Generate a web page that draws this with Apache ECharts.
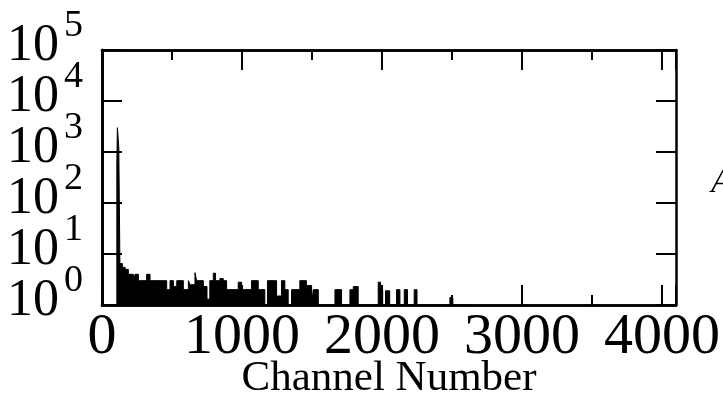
<!DOCTYPE html>
<html>
<head>
<meta charset="utf-8">
<script src="https://cdn.jsdelivr.net/npm/echarts@6/dist/echarts.min.js"></script>
<style>html,body{margin:0;padding:0;background:#fff}#c{width:723px;height:407px}</style>
</head>
<body>
<div id="c"></div>
<script>
// Histogram: each value holds from its channel until the next channel entry
const channels = [0, 106, 110, 120, 128, 145, 165, 188, 224, 236, 260, 319, 343, 462, 486, 510, 534, 581, 617, 629, 664, 676, 724, 750, 770, 795, 811, 842, 866, 890, 973, 997, 1068, 1116, 1163, 1182, 1247, 1282, 1306, 1330, 1354, 1413, 1460, 1497, 1509, 1545, 1664, 1711, 1771, 1795, 1830, 1973, 1990, 2005, 2025, 2055, 2104, 2128, 2159, 2182, 2230, 2250, 2485, 2506, 2600];
const counts   = [1, 600, 3000, 1200, 6.5, 5.5, 5, 4, 3, 4, 3, 4, 3, 2, 3, 2.3, 3, 2, 3, 2.5, 4.3, 3, 2.3, 1.3, 3, 4.2, 3, 3.3, 3, 2, 2.8, 2, 3, 2, 1, 3, 1.5, 3, 2, 1, 2, 3, 2.4, 1, 2, 1, 2, 1, 2, 2.3, 1, 2.8, 2, 1, 1.9, 1, 2, 1, 2, 1, 2, 1, 1.4, 1, 1];
const xTickLabels = ['0', '1000', '2000', '3000', '4000'];
const yTickBase = '10';
const xAxisName = 'Channel Number';
const sideText = 'A';

const serif = 'Liberation Serif';
const chart = echarts.init(document.getElementById('c'), null, {renderer: 'canvas'});
const gridRect = {left: 102, top: 50, width: 574, height: 255, containLabel: false, outerBoundsMode: 'none'};
// narrow strip along the left border, used only to draw the inner left ticks
const leftStrip = {left: 102, top: 50, width: 20, height: 255, containLabel: false, outerBoundsMode: 'none'};

function xAxisDef(grid, pos, interval, len, withLabels, show) {
  return {
    type: 'value', gridIndex: grid, position: pos, min: 0, max: 4100, interval: interval, show: show,
    axisLine: {show: true, onZero: false, lineStyle: {color: '#000', width: 2.5}},
    axisTick: {show: true, inside: true, length: len, lineStyle: {color: '#000', width: 2}},
    splitLine: {show: false},
    axisLabel: withLabels ? {
      show: true, margin: 4, color: '#000', fontFamily: serif, fontSize: 58,
      showMinLabel: true, showMaxLabel: true, hideOverlap: false,
      formatter: v => xTickLabels.includes(String(v)) ? String(v) : ''
    } : {show: false},
    name: withLabels ? xAxisName : '',
    nameLocation: 'middle', nameGap: 52, nameMoveOverlap: false,
    nameTextStyle: {color: '#000', fontFamily: serif, fontSize: 43}
  };
}
const exp10 = v => Math.round(Math.log10(v));
function yLeft(grid, labelOpts, formatter) {
  return {
    type: 'log', logBase: 10, min: 1, max: 100000, splitLine: {show: false},
    gridIndex: grid, position: 'left',
    axisLine: {show: true, onZero: false, lineStyle: {color: '#000', width: 2.5}},
    axisTick: {show: true, inside: true, length: 20, lineStyle: {color: '#000', width: 2}},
    axisLabel: Object.assign({
      show: true, hideOverlap: false, showMinLabel: true, showMaxLabel: true,
      color: '#000', fontFamily: serif, formatter: formatter
    }, labelOpts)
  };
}
function yTicksOnly(grid, pos, showLine) {
  return {
    type: 'log', logBase: 10, min: 1, max: 100000, splitLine: {show: false},
    gridIndex: grid, position: pos,
    axisLine: {show: showLine, onZero: false, lineStyle: {color: '#000', width: 2.5}},
    axisTick: {show: true, inside: true, length: 20, lineStyle: {color: '#000', width: 2}},
    axisLabel: {show: false}
  };
}
// no padding: offsets come from a bottom-aligned box of chosen line height
const mainLabel = {margin: 43, fontSize: 52, lineHeight: 8, verticalAlign: 'bottom'};
const supLabel = {margin: 19, fontSize: 38, lineHeight: 48, verticalAlign: 'bottom'};

chart.setOption({
  animation: false,
  backgroundColor: '#fff',
  grid: [Object.assign({}, gridRect), Object.assign({}, gridRect), Object.assign({}, gridRect), leftStrip],
  xAxis: [
    xAxisDef(0, 'bottom', 1000, 20, true, true),
    xAxisDef(0, 'top', 1000, 20, false, true),
    xAxisDef(1, 'bottom', 500, 10, false, true),
    xAxisDef(1, 'top', 500, 10, false, true),
    xAxisDef(2, 'bottom', 1000, 20, false, false),
    xAxisDef(3, 'bottom', 1000, 20, false, false)
  ],
  yAxis: [
    yLeft(0, mainLabel, v => exp10(v) % 2 === 0 ? yTickBase : ''),   // "10" for even decades
    yTicksOnly(0, 'right', true),                                     // right border ticks
    yLeft(1, supLabel, v => String(exp10(v))),                         // exponents
    yLeft(2, mainLabel, v => exp10(v) % 2 === 1 ? yTickBase : ''),    // "10" for odd decades
    yTicksOnly(3, 'right', false)                                     // left border ticks (strip's right edge, pointing left)
  ],
  graphic: [{
    type: 'text', left: 711, top: 166,
    style: {text: sideText, fill: '#000', font: 'italic 34px "Liberation Serif"'}
  }],
  series: [{
    type: 'line', xAxisIndex: 0, yAxisIndex: 0, step: 'end', symbol: 'none', silent: true,
    data: channels.map((c, i) => [c, counts[i]]),
    lineStyle: {color: '#000', width: 1},
    areaStyle: {color: '#000', opacity: 1, origin: 'start'}
  }]
});
</script>
</body>
</html>
